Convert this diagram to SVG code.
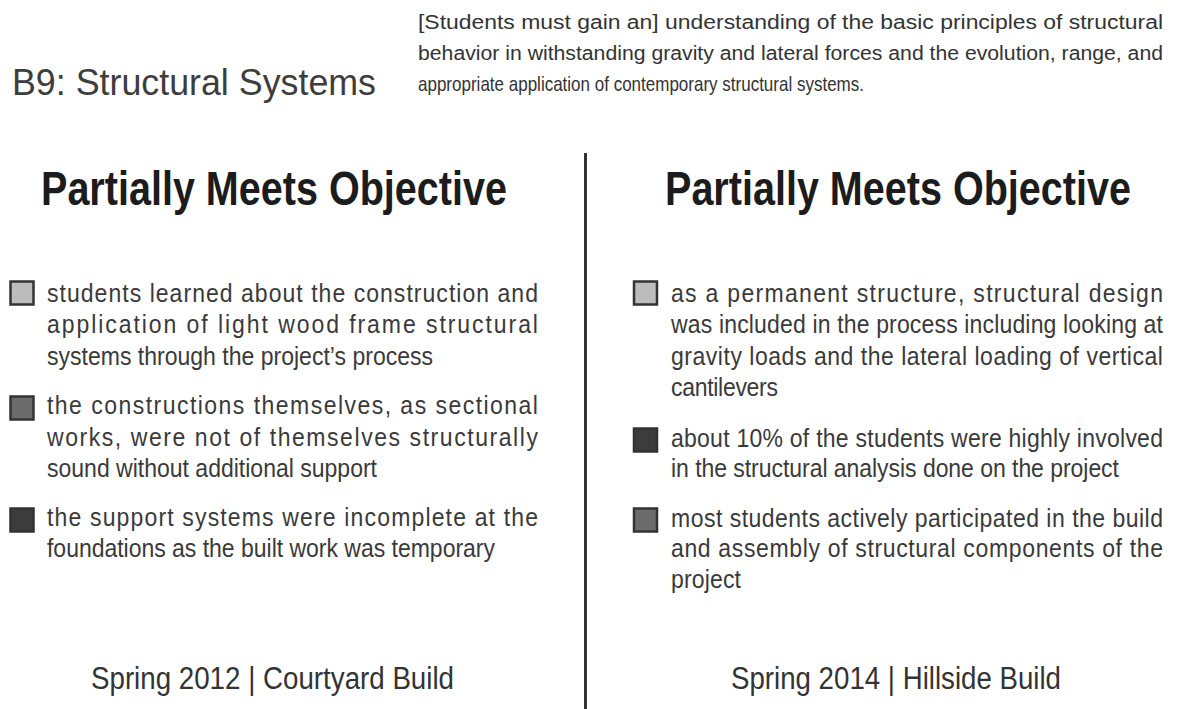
<svg xmlns="http://www.w3.org/2000/svg" width="1177" height="709" viewBox="0 0 1177 709">
<style>
text{font-family:"Liberation Sans",Arial,sans-serif}
.title{font-size:37px;fill:#3d3d3d}
.desc{font-size:20px;fill:#333}
.head{font-size:49px;font-weight:bold;fill:#1c1c1c}
.item{font-size:26px;fill:#3a3a3a}
.foot{font-size:31px;fill:#333}
.sq{stroke:#333;stroke-width:2.5}
.light{fill:#bcbcbc}
.mid{fill:#6c6c6c}
.dark{fill:#3c3c3c}
</style>
<rect width="1177" height="709" fill="#fff"/>
<g id="title"><text class="title" x="12" y="95" textLength="364" lengthAdjust="spacingAndGlyphs">B9: Structural Systems</text></g>
<g id="description">
<text class="desc" x="418" y="29" textLength="745" lengthAdjust="spacingAndGlyphs">[Students must gain an] understanding of the basic principles of structural</text>
<text class="desc" x="418" y="60" textLength="745" lengthAdjust="spacingAndGlyphs">behavior in withstanding gravity and lateral forces and the evolution, range, and</text>
<text class="desc" transform="translate(418 91) scale(0.85 1)" textLength="524.7" lengthAdjust="spacing">appropriate application of contemporary structural systems.</text>
</g>
<g id="connectors">
<line x1="585.5" y1="153" x2="585.5" y2="709" stroke="#333" stroke-width="3"/>
</g>
<g id="left-heading"><text class="head" x="41" y="205" textLength="466" lengthAdjust="spacingAndGlyphs">Partially Meets Objective</text></g>
<g id="right-heading"><text class="head" x="665" y="205" textLength="466" lengthAdjust="spacingAndGlyphs">Partially Meets Objective</text></g>
<g id="left-item-1">
<rect class="sq light" x="10.5" y="281.5" width="23" height="23"/>
<text class="item" transform="translate(47 302) scale(0.885 1)" textLength="554.8" lengthAdjust="spacing">students learned about the construction and</text>
<text class="item" transform="translate(47 333) scale(0.885 1)" textLength="554.8" lengthAdjust="spacing">application of light wood frame structural</text>
<text class="item" transform="translate(47 365) scale(0.885 1)" textLength="436.2" lengthAdjust="spacing">systems through the project’s process</text>
</g>
<g id="left-item-2">
<rect class="sq mid" x="10.5" y="396.5" width="23" height="23"/>
<text class="item" transform="translate(47 414) scale(0.885 1)" textLength="554.8" lengthAdjust="spacing">the constructions themselves, as sectional</text>
<text class="item" transform="translate(47 446) scale(0.885 1)" textLength="554.8" lengthAdjust="spacing">works, were not of themselves structurally</text>
<text class="item" transform="translate(47 477) scale(0.885 1)" textLength="372.9" lengthAdjust="spacing">sound without additional support</text>
</g>
<g id="left-item-3">
<rect class="sq dark" x="10.5" y="508.5" width="23" height="23"/>
<text class="item" transform="translate(47 526) scale(0.885 1)" textLength="554.8" lengthAdjust="spacing">the support systems were incomplete at the</text>
<text class="item" transform="translate(47 557) scale(0.885 1)" textLength="506.2" lengthAdjust="spacing">foundations as the built work was temporary</text>
</g>
<g id="right-item-1">
<rect class="sq light" x="634" y="281.5" width="23" height="23"/>
<text class="item" transform="translate(671 302) scale(0.885 1)" textLength="555.9" lengthAdjust="spacing">as a permanent structure, structural design</text>
<text class="item" transform="translate(671 333) scale(0.885 1)" textLength="555.9" lengthAdjust="spacing">was included in the process including looking at</text>
<text class="item" transform="translate(671 365) scale(0.885 1)" textLength="555.9" lengthAdjust="spacing">gravity loads and the lateral loading of vertical</text>
<text class="item" transform="translate(671 396) scale(0.885 1)" textLength="120.9" lengthAdjust="spacing">cantilevers</text>
</g>
<g id="right-item-2">
<rect class="sq dark" x="634" y="428.5" width="23" height="23"/>
<text class="item" transform="translate(671 447) scale(0.885 1)" textLength="555.9" lengthAdjust="spacing">about 10% of the students were highly involved</text>
<text class="item" transform="translate(671 477) scale(0.885 1)" textLength="506.2" lengthAdjust="spacing">in the structural analysis done on the project</text>
</g>
<g id="right-item-3">
<rect class="sq mid" x="634" y="508.5" width="23" height="23"/>
<text class="item" transform="translate(671 527) scale(0.885 1)" textLength="555.9" lengthAdjust="spacing">most students actively participated in the build</text>
<text class="item" transform="translate(671 557) scale(0.885 1)" textLength="555.9" lengthAdjust="spacing">and assembly of structural components of the</text>
<text class="item" transform="translate(671 588) scale(0.885 1)" textLength="79.1" lengthAdjust="spacing">project</text>
</g>
<g id="left-footer"><text class="foot" x="91" y="689" textLength="363" lengthAdjust="spacingAndGlyphs">Spring 2012 | Courtyard Build</text></g>
<g id="right-footer"><text class="foot" x="731" y="689" textLength="330" lengthAdjust="spacingAndGlyphs">Spring 2014 | Hillside Build</text></g>
</svg>
